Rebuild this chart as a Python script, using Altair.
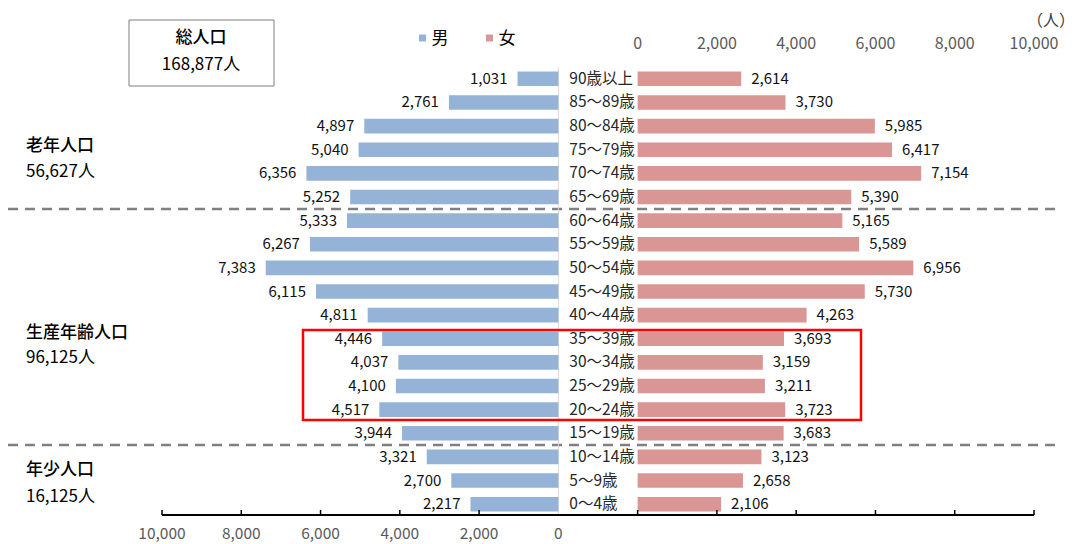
import altair as alt
import pandas as pd

# Age groups, top (oldest) to bottom (youngest)
ages = [
    "90歳以上", "85～89歳", "80～84歳", "75～79歳", "70～74歳", "65～69歳",
    "60～64歳", "55～59歳", "50～54歳", "45～49歳", "40～44歳", "35～39歳",
    "30～34歳", "25～29歳", "20～24歳", "15～19歳", "10～14歳", "5～9歳", "0～4歳",
]
male = [1031, 2761, 4897, 5040, 6356, 5252, 5333, 6267, 7383, 6115,
        4811, 4446, 4037, 4100, 4517, 3944, 3321, 2700, 2217]
female = [2614, 3730, 5985, 6417, 7154, 5390, 5165, 5589, 6956, 5730,
          4263, 3693, 3159, 3211, 3723, 3683, 3123, 2658, 2106]
tick_values = [0, 2000, 4000, 6000, 8000, 10000]
sexes = ["男", "女"]
sex_colors = ["#95B3D7", "#DA9694"]

GAP = 2000        # width of the central age-label column, in persons
AXIS_MAX = 10000
FONT = "Noto Sans CJK JP"

# Plot-area placement inside the 1077x544 canvas
LEFT, TOP, RIGHT, BOTTOM = 162, 67, 43, 28
W, H = 1077 - LEFT - RIGHT, 544 - TOP - BOTTOM


def px(x):
    return x - LEFT


def py(y):
    return y - TOP


# Group totals (both sexes)
total = sum(male) + sum(female)
elderly = sum(male[0:6]) + sum(female[0:6])
working = sum(male[6:16]) + sum(female[6:16])
young = sum(male[16:]) + sum(female[16:])

rows = []
for a, m, f in zip(ages, male, female):
    rows.append({"age": a, "sex": "男", "value": m})
    rows.append({"age": a, "sex": "女", "value": f})
df = pd.DataFrame(rows)

x_scale = alt.Scale(domain=[-GAP - AXIS_MAX, AXIS_MAX], nice=False, zero=False)
y_scale = alt.Scale(domain=ages, paddingInner=0, paddingOuter=0)
color_scale = alt.Scale(domain=sexes, range=sex_colors)


def X(field):
    return alt.X(field, axis=None)


def Y(field):
    return alt.Y(field, axis=None)


base = alt.Chart(df).transform_calculate(
    start=f"datum.sex === '男' ? -{GAP} - datum.value : 0",
    end=f"datum.sex === '男' ? -{GAP} : datum.value",
)

bars = base.mark_bar(height=14.6).encode(
    x=alt.X("start:Q", scale=x_scale, axis=None),
    x2="end:Q",
    y=alt.Y("age:N", scale=y_scale, axis=None),
    color=alt.Color("sex:N", scale=color_scale, legend=None),
)

male_labels = base.transform_filter("datum.sex === '男'").mark_text(
    align="right", baseline="middle", dx=-10, font=FONT, fontSize=15, color="#111111"
).encode(x=X("start:Q"), y=Y("age:N"), text=alt.Text("value:Q", format=","))

female_labels = base.transform_filter("datum.sex === '女'").mark_text(
    align="left", baseline="middle", dx=10, font=FONT, fontSize=15, color="#111111"
).encode(x=X("end:Q"), y=Y("age:N"), text=alt.Text("value:Q", format=","))

age_df = pd.DataFrame({"age": ages, "centre": [-GAP] * len(ages)})
age_labels = alt.Chart(age_df).mark_text(
    align="left", baseline="middle", dx=11, font=FONT, fontSize=15.5, color="#262626"
).encode(x=X("centre:Q"), y=Y("age:N"), text="age:N")

centre_df = pd.DataFrame({"centre": [-GAP]})
centre_line = alt.Chart(centre_df).mark_rule(color="#D9D9D9", strokeWidth=1).encode(
    x=X("centre:Q"), y=alt.value(py(67)), y2=alt.value(py(515))
)

# Bottom axis: line, inward ticks, male labels
axis_df = pd.DataFrame({"lo": [-GAP - AXIS_MAX], "hi": [AXIS_MAX]})
axis_line = alt.Chart(axis_df).mark_rule(color="#000000", strokeWidth=2).encode(
    x=X("lo:Q"), x2="hi:Q", y=alt.value(py(515))
)
tick_df = pd.DataFrame(
    {"pos": [-GAP - t for t in tick_values if t > 0] + tick_values}
)
ticks = alt.Chart(tick_df).mark_rule(color="#000000", strokeWidth=1.5).encode(
    x=X("pos:Q"), y=alt.value(py(510)), y2=alt.value(py(515))
)
label_df = pd.DataFrame({"tick": tick_values})
bottom_labels = alt.Chart(label_df).transform_calculate(
    pos=f"-{GAP} - datum.tick"
).mark_text(font=FONT, fontSize=15.5, color="#595959", baseline="middle").encode(
    x=X("pos:Q"), y=alt.value(py(534)), text=alt.Text("tick:Q", format=",")
)
top_labels = alt.Chart(label_df).mark_text(
    font=FONT, fontSize=16, color="#595959", baseline="middle"
).encode(x=X("tick:Q"), y=alt.value(py(44)), text=alt.Text("tick:Q", format=","))

# Legend: coloured square + label for each sex
legend_df = pd.DataFrame({"sex": sexes})
legend_layers = []
for sex, sx in zip(sexes, [422.5, 489.5]):
    one_sex = alt.Chart(legend_df).transform_filter(f"datum.sex === '{sex}'")
    legend_layers.append(
        one_sex.mark_square(size=49, opacity=1).encode(
            x=alt.value(px(sx)), y=alt.value(py(38)),
            color=alt.Color("sex:N", scale=color_scale, legend=None),
        )
    )
    legend_layers.append(
        one_sex.mark_text(
            align="left", baseline="middle", font=FONT, fontSize=17, color="#000000"
        ).encode(x=alt.value(px(sx + 9)), y=alt.value(py(39)), text="sex:N")
    )


def note(text, x, y, align="left", size=17, color="#000000", weight="normal"):
    return alt.Chart(pd.DataFrame({"t": [text]})).mark_text(
        font=FONT, fontSize=size, color=color, align=align, baseline="middle",
        fontWeight=weight,
    ).encode(x=alt.value(px(x)), y=alt.value(py(y)), text="t:N")


def box(name, x0, x1, y0, y1, **style):
    return alt.Chart(pd.DataFrame({"name": [name]})).mark_rect(**style).encode(
        x=alt.value(px(x0)), x2=alt.value(px(x1)),
        y=alt.value(py(y0)), y2=alt.value(py(y1)),
        detail="name:N",
    )


def hline(name, y):
    return alt.Chart(pd.DataFrame({"name": [name]})).mark_rule(
        color="#808080", strokeWidth=2.5, strokeDash=[10, 7]
    ).encode(
        x=alt.value(px(8)), x2=alt.value(px(1056)), y=alt.value(py(y)),
        detail="name:N",
    )


# Separators between the three age bands
separators = [hline("老年/生産年齢", 209), hline("生産年齢/年少", 445)]

# Highlight box around ages 20-39
highlight = box("20～39歳", 303, 861, 330, 420, filled=False, stroke="#FF0000", strokeWidth=2.5)

# Total population box
total_box = box("総人口", 129, 274, 20, 86, fill="#FFFFFF", stroke="#7F7F7F", strokeWidth=1)

notes = [
    note("（人）", 1075, 21, align="right", size=16, color="#404040"),
    note("総人口", 201, 38, align="center", weight=500),
    note(f"{total:,}人", 201, 65, align="center"),
    note("老年人口", 26, 146, weight=500),
    note(f"{elderly:,}人", 26, 172),
    note("生産年齢人口", 26, 333, weight=500),
    note(f"{working:,}人", 26, 358),
    note("年少人口", 26, 470, weight=500),
    note(f"{young:,}人", 26, 497),
]

chart = alt.layer(
    *separators, centre_line, bars, male_labels, female_labels, age_labels,
    axis_line, ticks, bottom_labels, top_labels, highlight, total_box,
    *legend_layers, *notes,
).properties(
    width=W, height=H,
    padding={"left": LEFT, "top": TOP, "right": RIGHT, "bottom": BOTTOM},
    autosize=alt.AutoSizeParams(type="none"),
).configure_view(stroke=None)

chart.save("out.html", embed_options={"renderer": "svg", "actions": False})
